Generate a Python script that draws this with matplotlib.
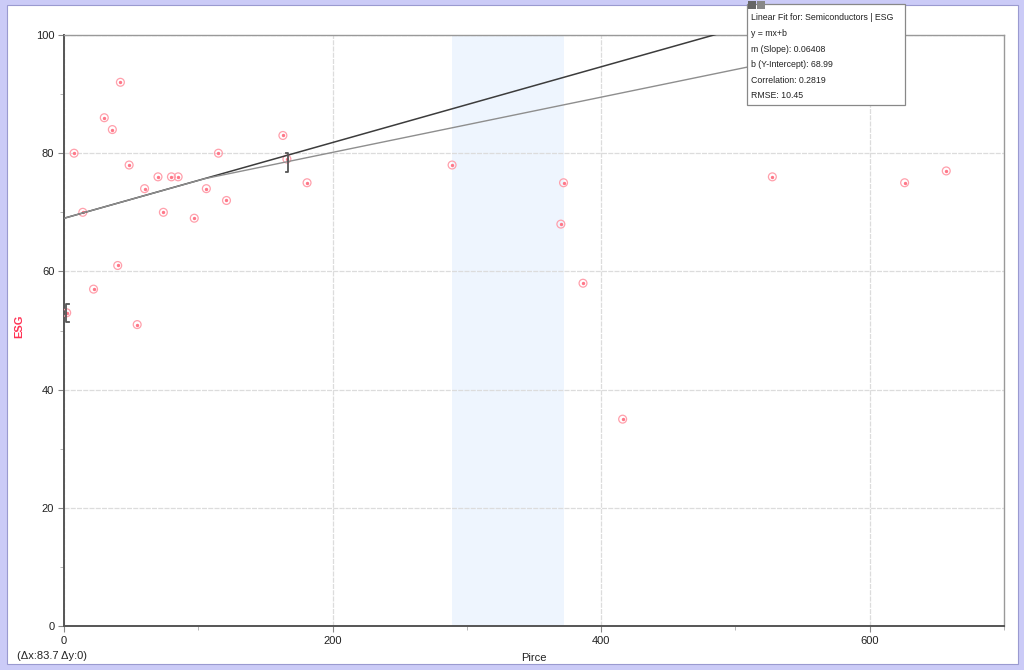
import matplotlib
matplotlib.use("Agg")
import matplotlib.pyplot as plt
from matplotlib.patches import Rectangle
from matplotlib.ticker import MultipleLocator

# scatter data: Pirce vs ESG
pirce = [2, 7.5, 14, 22, 30, 36, 40, 42, 48.5, 54.5, 60, 70, 74, 80, 85,
         97, 106, 115, 121, 163, 166, 181, 289, 372, 370, 386.5, 416,
         527.5, 626, 657]
esg = [53, 80, 70, 57, 86, 84, 61, 92, 78, 51, 74, 76, 70, 76, 76,
       69, 74, 80, 72, 83, 79, 75, 78, 75, 68, 58, 35,
       76, 75, 77]

# linear fit
slope = 0.06408
intercept = 68.99
fit_x = [0, 700]

# second (lighter) trend line
light_x = [0, 105, 700]
light_y = [68.99, 75.7, 103.5]

# highlighted x range
band = (289, 372.5)

# bracket markers (x, ylow, yhigh, side)
brackets = [(1.5, 51.5, 54.5, 'left'), (167, 76.8, 80.0, 'right')]

fit_text = ["Linear Fit for: Semiconductors | ESG",
            "y = mx+b",
            "m (Slope): 0.06408",
            "b (Y-Intercept): 68.99",
            "Correlation: 0.2819",
            "RMSE: 10.45"]

plt.rcParams['font.family'] = ['Liberation Sans', 'DejaVu Sans']

fig = plt.figure(figsize=(10.24, 6.7), dpi=100)
fig.patch.set_facecolor('#cbcbf7')
# white panel
fig.patches.append(Rectangle((7 / 1024, 1 - 664 / 670), 1011 / 1024, 659 / 670,
                             transform=fig.transFigure, facecolor='white',
                             edgecolor='#9a9ad0', lw=0.8, zorder=-5))

ax = fig.add_axes([64 / 1024, 1 - 626 / 670, 940 / 1024, 591 / 670])
ax.set_zorder(1)
ax.set_xlim(0, 700)
ax.set_ylim(0, 100)

ax.axvspan(band[0], band[1], color='#eef5fe', zorder=0, lw=0)

ax.xaxis.set_major_locator(MultipleLocator(200))
ax.xaxis.set_minor_locator(MultipleLocator(100))
ax.yaxis.set_major_locator(MultipleLocator(20))
ax.yaxis.set_minor_locator(MultipleLocator(10))
ax.grid(which='major', color='#dcdcdc', lw=0.9, ls=(0, (4, 1)))
ax.set_axisbelow(True)

ax.scatter(pirce, esg, s=32, facecolors='none', edgecolors='#ffa0ac', lw=0.9, zorder=3)
ax.scatter(pirce, esg, s=2, color='#ff7788', zorder=3)

fit_y = [slope * x + intercept for x in fit_x]
ax.plot(fit_x, fit_y, color='#3c3c3c', lw=1.1, zorder=4)
ax.plot(light_x, light_y, color='#8e8e8e', lw=1.0, zorder=4)

for bx, y0, y1, side in brackets:
    d = 2.0 if side == 'left' else -2.0
    ax.plot([bx + d, bx, bx, bx + d], [y0, y0, y1, y1], color='#555555', lw=1.3, zorder=5)

for side in ['left', 'bottom']:
    ax.spines[side].set_color('#555555')
    ax.spines[side].set_linewidth(1.4)
for side in ['top', 'right']:
    ax.spines[side].set_color('#999999')
    ax.spines[side].set_linewidth(1.0)

ax.tick_params(which='major', length=4, color='#888888', labelsize=8, labelcolor='#222222', pad=3)
ax.tick_params(which='minor', length=3, color='#aaaaaa')

ax.set_xlabel("Pirce", fontsize=8, color='#222222')
ax.xaxis.set_label_coords(0.5, -0.046)
ax.set_ylabel("ESG", fontsize=8, color='#ff3355', fontweight='bold')
ax.yaxis.set_label_coords(-0.0426, 0.508)

fig.text(17 / 1024, 1 - 656 / 670, "(\u0394x:83.7 \u0394y:0)", fontsize=8, color='#222222', va='center')

# fit tooltip box
fig.patches.append(Rectangle((747 / 1024, 1 - 105 / 670), 158 / 1024, 101 / 670,
                             transform=fig.transFigure, facecolor='white',
                             edgecolor='#888888', lw=0.9, zorder=10))
fig.patches.append(Rectangle((748 / 1024, 1 - 9 / 670), 8 / 1024, 8 / 670,
                             transform=fig.transFigure, facecolor='#666666',
                             edgecolor='none', zorder=11))
fig.patches.append(Rectangle((757 / 1024, 1 - 9 / 670), 8 / 1024, 8 / 670,
                             transform=fig.transFigure, facecolor='#888888',
                             edgecolor='none', zorder=11))
for i, line in enumerate(fit_text):
    fig.text(751 / 1024, 1 - (18 + i * 15.6) / 670, line, fontsize=6.3,
             color='#222222', va='center', zorder=12)

fig.savefig("out.png", dpi=100, facecolor=fig.get_facecolor())
